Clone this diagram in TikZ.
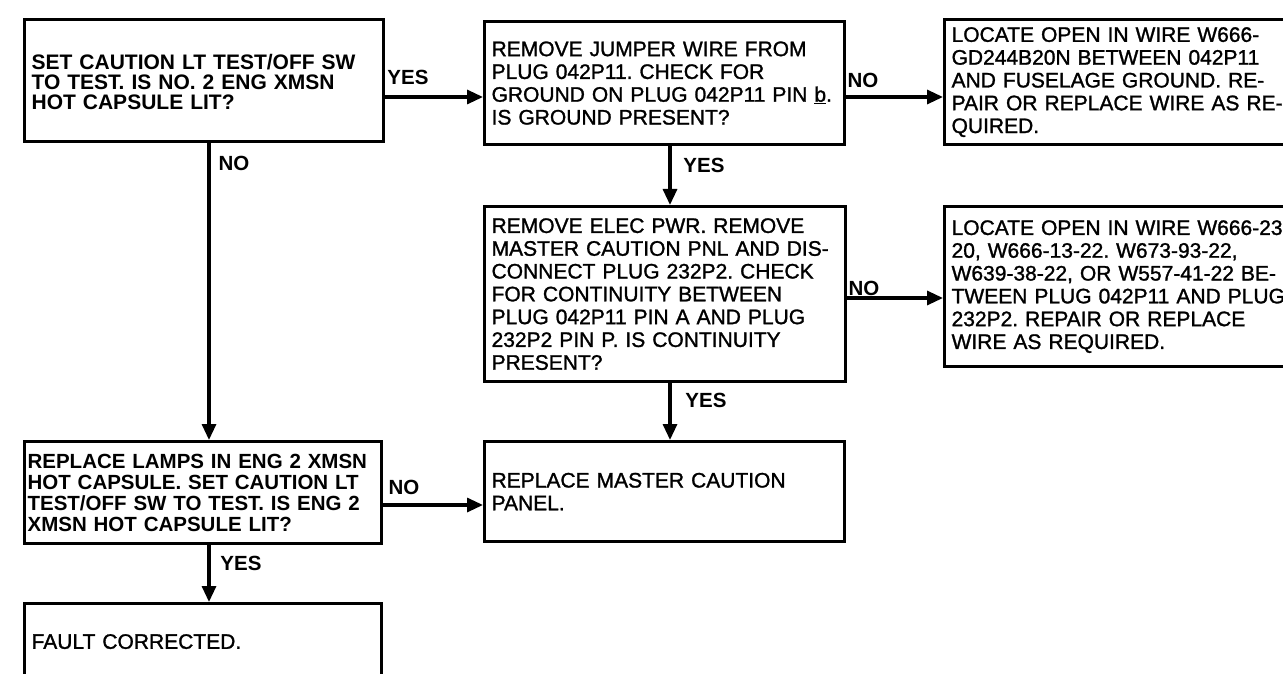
\documentclass[tikz,border=0pt]{standalone}
\usepackage{fontspec}
\setmainfont{Liberation Sans}
\newfontfamily\medfont[FakeBold=1.3]{Liberation Sans}
\usetikzlibrary{arrows.meta}
\frenchspacing
\tikzset{
  box/.style={draw, line width=3.2pt, rectangle, anchor=north west, align=left,
    inner xsep=6pt, inner ysep=0pt, font=\medfont\fontsize{21}{22.8}\selectfont},
  boldbox/.style={box, font=\fontsize{21}{20}\selectfont\bfseries},
  arr/.style={line width=3.2pt, -{Triangle[length=16pt,width=14pt]}},
  lbl/.style={font=\fontsize{20.5}{22}\selectfont\bfseries, inner sep=0pt}
}
\begin{document}
\begin{tikzpicture}[x=1pt,y=-1pt]
\useasboundingbox (0,0) rectangle (1283,674);
\clip (0,0) rectangle (1283,674);
% boxes
\node[boldbox, minimum width=359pt, minimum height=122pt, text width=345pt] (b1) at (23,18)
  {\rule{0pt}{18pt}SET CAUTION LT TEST/OFF SW\\TO TEST. IS NO. 2 ENG XMSN\\HOT CAPSULE LIT?};
\node[box, minimum width=360pt, minimum height=123pt, text width=346pt] (b2) at (483,20)
  {REMOVE JUMPER WIRE FROM\\PLUG 042P11. CHECK FOR\\GROUND ON PLUG 042P11 PIN \underline{b}.\\IS GROUND PRESENT?};
\node[box, minimum width=400pt, minimum height=125pt, text width=386pt] (b3) at (943,18)
  {LOCATE OPEN IN WIRE W666-\\GD244B20N BETWEEN 042P11\\AND FUSELAGE GROUND. RE-\\PAIR OR REPLACE WIRE AS RE-\\QUIRED.};
\node[box, minimum width=361pt, minimum height=175pt, text width=347pt] (b5) at (483,205)
  {REMOVE ELEC PWR. REMOVE\\MASTER CAUTION PNL AND DIS-\\CONNECT PLUG 232P2. CHECK\\FOR CONTINUITY BETWEEN\\PLUG 042P11 PIN A AND PLUG\\232P2 PIN P. IS CONTINUITY\\PRESENT?};
\node[box, minimum width=400pt, minimum height=160pt, text width=386pt] (b6) at (943,205)
  {LOCATE OPEN IN WIRE W666-23\\20, W666-13-22. W673-93-22,\\W639-38-22, OR W557-41-22 BE-\\TWEEN PLUG 042P11 AND PLUG\\232P2. REPAIR OR REPLACE\\WIRE AS REQUIRED.};
\node[box, minimum width=360pt, minimum height=100pt, text width=346pt] (b7) at (483,440)
  {REPLACE MASTER CAUTION\\PANEL.};
\node[boldbox, minimum width=357pt, minimum height=102pt, text width=351pt, inner xsep=3pt, font=\fontsize{20.5}{21}\selectfont\bfseries] (b4) at (23,440)
  {REPLACE LAMPS IN ENG 2 XMSN\\HOT CAPSULE. SET CAUTION LT\\TEST/OFF SW TO TEST. IS ENG 2\\XMSN HOT CAPSULE LIT?};
\node[box, minimum width=357pt, minimum height=76pt, text width=343pt] (b8) at (23,602)
  {FAULT CORRECTED.};
% connectors
\draw[arr] (b1.east |- 0,97) -- (b2.west |- 0,97);
\node[lbl] (l1) at (408,77) {YES};
\draw[arr] (b2.east |- 0,97) -- (b3.west |- 0,97);
\node[lbl] (l2) at (863,80) {NO};
\draw[arr] (b2.south -| 670,0) -- (b5.north -| 670,0);
\node[lbl] (l3) at (704,165) {YES};
\draw[arr] (b5.east |- 0,298) -- (b6.west |- 0,298);
\node[lbl] (l4) at (864,288) {NO};
\draw[arr] (b5.south -| 670,0) -- (b7.north -| 670,0);
\node[lbl] (l5) at (706,400) {YES};
\draw[arr] (b1.south -| 209,0) -- (b4.north -| 209,0);
\node[lbl] (l6) at (234,163) {NO};
\draw[arr] (b4.east |- 0,505) -- (b7.west |- 0,505);
\node[lbl] (l7) at (404,487) {NO};
\draw[arr] (b4.south -| 209,0) -- (b8.north -| 209,0);
\node[lbl] (l8) at (241,563) {YES};
\end{tikzpicture}
\end{document}
